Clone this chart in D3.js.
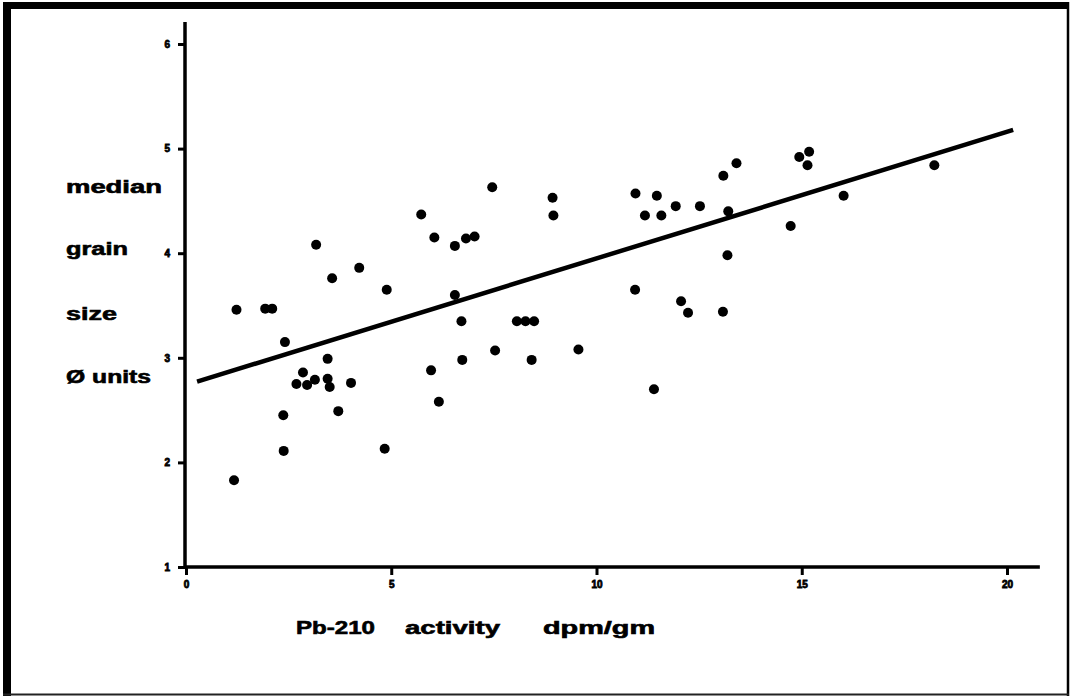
<!DOCTYPE html>
<html>
<head>
<meta charset="utf-8">
<script src="https://cdn.jsdelivr.net/npm/d3@7"></script>
<style>
html,body{margin:0;padding:0;background:#fff;}
svg{display:block;}
text{font-family:"Liberation Sans",Arial,sans-serif;font-weight:bold;fill:#000;}
</style>
</head>
<body>
<svg id="chart" width="1070" height="698"></svg>
<script>
// Pb-210 activity (dpm/gm)
const pbActivity = [3.17,4.22,3.56,4.89,1.23,1.93,2.10,2.41,3.45,2.85,2.69,2.95,3.14,3.45,3.50,4.02,2.37,3.71,2.38,4.84,1.17,
  7.46,8.93,8.95,10.95,11.18,5.73,6.05,6.55,6.82,7.03,6.55,6.71,8.06,8.27,8.48,10.94,7.53,9.56,6.73,8.42,5.97,6.16,
  11.47,11.58,11.93,12.52,13.09,13.41,13.21,14.94,15.18,15.14,18.23,16.02,14.73,13.19,12.06,12.23,13.08,11.40];
// median grain size (phi units)
const grainSize = [4.08,3.86,3.76,3.65,3.46,3.47,3.47,3.15,2.99,2.86,2.75,2.74,2.79,2.80,2.72,2.76,2.45,2.49,2.11,2.13,1.83,
  4.63,4.53,4.36,4.57,4.36,4.37,4.15,4.07,4.14,4.16,3.60,3.35,3.35,3.35,3.35,3.65,3.07,3.08,2.98,2.98,2.88,2.58,
  4.55,4.36,4.45,4.45,4.74,4.86,4.40,4.92,4.97,4.84,4.84,4.55,4.26,3.98,3.54,3.43,3.44,2.70];
const xTicks = [0,5,10,15,20];
const yTicks = [1,2,3,4,5,6];
const yLabelLines = ["median","grain","size","Ø units"];
const xLabelParts = ["Pb-210","activity","dpm/gm"];
// fitted regression line: size = a + b * activity
const fitIntercept = 2.74, fitSlope = 0.121;
const fitRange = [0.27, 20.15];

const svg = d3.select("#chart");
const x = d3.scaleLinear().domain([0,20]).range([186,1007]);
const y = d3.scaleLinear().domain([1,6]).range([567,44]);

// frame
svg.append("line").attr("x1",7).attr("y1",2).attr("x2",7).attr("y2",696).attr("stroke","#000").attr("stroke-width",8);
svg.append("line").attr("x1",3).attr("y1",5.5).attr("x2",1069).attr("y2",5.5).attr("stroke","#000").attr("stroke-width",7);
svg.append("line").attr("x1",1068).attr("y1",2).attr("x2",1068).attr("y2",696).attr("stroke","#000").attr("stroke-width",2.5);
svg.append("line").attr("x1",3).attr("y1",694.5).attr("x2",1069).attr("y2",694.5).attr("stroke","#222").attr("stroke-width",2);

// axes
const xAxis = d3.axisBottom(x).tickValues(xTicks).tickSize(8).tickPadding(6).tickFormat(d3.format("d"));
const gx = svg.append("g").attr("transform",`translate(0,${y(1)})`).call(xAxis);
gx.select(".domain").remove();
gx.selectAll(".tick line").attr("stroke","#000").attr("stroke-width",3);
gx.selectAll(".tick text").style("font-size","10px").style("font-weight","bold")
  .attr("fill","#000").attr("stroke","#000").attr("stroke-width",0.8);
svg.append("line").attr("x1",x(0)-1).attr("x2",x(20.8)).attr("y1",y(1)).attr("y2",y(1))
  .attr("stroke","#000").attr("stroke-width",3.5);

const yAxis = d3.axisLeft(y).tickValues(yTicks).tickSize(7).tickPadding(8).tickFormat(d3.format("d"));
const gy = svg.append("g").attr("transform",`translate(${x(0)-1},0)`).call(yAxis);
gy.select(".domain").remove();
gy.selectAll(".tick line").attr("stroke","#000").attr("stroke-width",3);
gy.selectAll(".tick text").style("font-size","10px").style("font-weight","bold")
  .attr("fill","#000").attr("stroke","#000").attr("stroke-width",0.8);
svg.append("line").attr("x1",x(0)-1).attr("x2",x(0)-1).attr("y1",y(6.21)).attr("y2",y(1)+1.5)
  .attr("stroke","#000").attr("stroke-width",3.5);

// regression line
svg.append("line")
  .attr("x1",x(fitRange[0])).attr("y1",y(fitIntercept+fitSlope*fitRange[0]))
  .attr("x2",x(fitRange[1])).attr("y2",y(fitIntercept+fitSlope*fitRange[1]))
  .attr("stroke","#000").attr("stroke-width",4.5);

// points
svg.append("g").selectAll("circle").data(pbActivity.map((v,i)=>[v,grainSize[i]])).join("circle")
  .attr("cx",d=>x(d[0])).attr("cy",d=>y(d[1])).attr("r",5).attr("fill","#000");

// y label lines
const yLab = [{b:193,w:96},{b:255,w:62},{b:320,w:51},{b:383,w:85}];
svg.append("g").selectAll("text").data(yLabelLines).join("text")
  .attr("x",66).attr("y",(d,i)=>yLab[i].b)
  .attr("textLength",(d,i)=>yLab[i].w).attr("lengthAdjust","spacingAndGlyphs")
  .attr("stroke","#000").attr("stroke-width",0.6)
  .style("font-size","18px").text(d=>d);

// x label
const xLab = [{x:296,w:79},{x:405,w:95},{x:543,w:112}];
svg.append("g").selectAll("text").data(xLabelParts).join("text")
  .attr("x",(d,i)=>xLab[i].x).attr("y",634)
  .attr("textLength",(d,i)=>xLab[i].w).attr("lengthAdjust","spacingAndGlyphs")
  .attr("stroke","#000").attr("stroke-width",0.6)
  .style("font-size","18px").text(d=>d);
</script>
</body>
</html>
